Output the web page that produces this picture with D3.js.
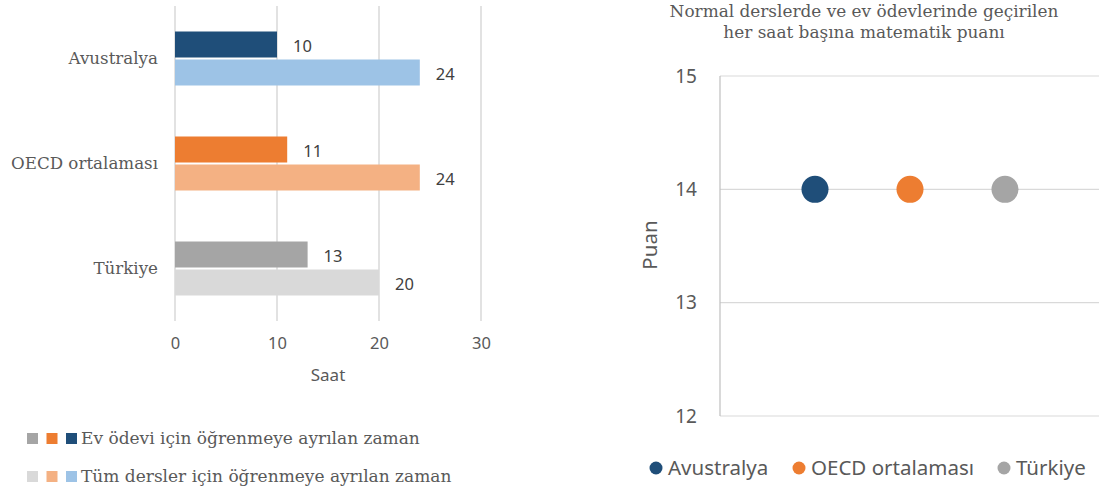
<!DOCTYPE html>
<html>
<head>
<meta charset="utf-8">
<script src="https://cdn.jsdelivr.net/npm/d3@7"></script>
<style>
  body { margin: 0; background: #fff; }
  svg { display: block; }
</style>
</head>
<body>
<svg id="chart" width="1099" height="493"></svg>
<script>
// data
var countries = ["Avustralya", "OECD ortalaması", "Türkiye"];
var homework = [10, 11, 13];
var allLessons = [24, 24, 20];
var xTicks = [0, 10, 20, 30];
var scorePerHour = [14, 14, 14];
var yTicks = [12, 13, 14, 15];
var darkColours = ["#1f4e79", "#ed7d31", "#a5a5a5"];
var lightColours = ["#9dc3e6", "#f4b183", "#d9d9d9"];
var legendLabels = ["Ev ödevi için öğrenmeye ayrılan zaman", "Tüm dersler için öğrenmeye ayrılan zaman"];
var titleLines = ["Normal derslerde ve ev ödevlerinde geçirilen", "her saat başına matematik puanı"];

var serif = "DejaVu Serif";
var sans = "Noto Sans";
var svg = d3.select("#chart");

//---- left chart: horizontal bars
var xScale = d3.scaleLinear().domain([0, 30]).range([175, 481]);
var yBand = d3.scaleBand().domain(countries).range([6, 321]);

var left = svg.append("g");

// gridlines
left.selectAll(".grid")
  .data(xTicks)
  .enter().append("line")
  .attr("x1", function(d) { return xScale(d); })
  .attr("x2", function(d) { return xScale(d); })
  .attr("y1", 6)
  .attr("y2", 321)
  .attr("stroke", "#d9d9d9")
  .attr("stroke-width", 1.5);

// tick labels
var xAxis = left.append("g")
  .attr("transform", "translate(0, 334)")
  .call(d3.axisBottom(xScale).tickValues(xTicks).tickSize(0).tickPadding(0));
xAxis.select(".domain").remove();
xAxis.selectAll("text")
  .attr("font-family", sans)
  .attr("font-size", 16.5)
  .attr("fill", "#595959")
  .attr("dy", "0.9em");

left.append("text")
  .attr("x", (xScale(0) + xScale(30)) / 2)
  .attr("y", 381)
  .attr("text-anchor", "middle")
  .attr("font-family", sans)
  .attr("font-size", 17)
  .attr("fill", "#595959")
  .text("Saat");

var barH = 26;
var groups = left.selectAll(".country")
  .data(countries)
  .enter().append("g");

groups.each(function(c, i) {
  var g = d3.select(this);
  var mid = yBand(c) + yBand.bandwidth() / 2;
  var rows = [
    { v: homework[i], col: darkColours[i], y: mid - barH - 1 },
    { v: allLessons[i], col: lightColours[i], y: mid + 1 }
  ];
  rows.forEach(function(r) {
    g.append("rect")
      .attr("x", xScale(0))
      .attr("y", r.y)
      .attr("width", xScale(r.v) - xScale(0))
      .attr("height", barH)
      .attr("fill", r.col);
    g.append("text")
      .attr("x", xScale(r.v) + 16)
      .attr("y", r.y + barH / 2 + 1.5)
      .attr("dy", "0.35em")
      .attr("font-family", sans)
      .attr("font-size", 16.5)
      .attr("fill", "#404040")
      .text(r.v);
  });
  g.append("text")
    .attr("x", 158)
    .attr("y", mid)
    .attr("dy", "0.35em")
    .attr("text-anchor", "end")
    .attr("font-family", serif)
    .attr("font-size", 16.7)
    .attr("fill", "#595959")
    .text(c);
});

// legend (left)
var legendRows = [darkColours, lightColours];
legendRows.forEach(function(cols, r) {
  var ly = 438 + r * 38;
  var order = [2, 1, 0];
  order.forEach(function(ci, k) {
    left.append("rect")
      .attr("x", 27 + k * 19.5)
      .attr("y", ly - 5)
      .attr("width", 11)
      .attr("height", 11)
      .attr("fill", cols[ci]);
  });
  left.append("text")
    .attr("x", 81)
    .attr("y", ly)
    .attr("dy", "0.35em")
    .attr("font-family", serif)
    .attr("font-size", 17)
    .attr("fill", "#595959")
    .text(legendLabels[r]);
});

//---- right chart: dot plot
var xDot = d3.scaleLinear().domain([0, 4]).range([720, 1100]);
var yScale = d3.scaleLinear().domain([12, 15]).range([416, 76]);

var right = svg.append("g");

right.selectAll(".hgrid")
  .data(yTicks)
  .enter().append("line")
  .attr("x1", 720)
  .attr("x2", 1099)
  .attr("y1", function(d) { return yScale(d); })
  .attr("y2", function(d) { return yScale(d); })
  .attr("stroke", "#d9d9d9")
  .attr("stroke-width", 1.2);

right.append("line")
  .attr("x1", 720).attr("x2", 720)
  .attr("y1", yScale(15)).attr("y2", yScale(12))
  .attr("stroke", "#bfbfbf")
  .attr("stroke-width", 1.2);

var yAxis = right.append("g")
  .attr("transform", "translate(697, 0)")
  .call(d3.axisLeft(yScale).tickValues(yTicks).tickFormat(d3.format("d")).tickSize(0).tickPadding(0));
yAxis.select(".domain").remove();
yAxis.selectAll("text")
  .attr("font-family", sans)
  .attr("font-size", 19)
  .attr("fill", "#595959");

right.append("text")
  .attr("transform", "translate(657, 245) rotate(-90)")
  .attr("text-anchor", "middle")
  .attr("font-family", sans)
  .attr("font-size", 20.5)
  .attr("fill", "#595959")
  .text("Puan");

right.selectAll(".dot")
  .data(scorePerHour)
  .enter().append("circle")
  .attr("cx", function(d, i) { return xDot(i + 1); })
  .attr("cy", function(d) { return yScale(d); })
  .attr("r", 13.5)
  .attr("fill", function(d, i) { return darkColours[i]; });

right.selectAll(".title")
  .data(titleLines)
  .enter().append("text")
  .attr("x", 864)
  .attr("y", function(d, i) { return 11 + i * 21; })
  .attr("dy", "0.35em")
  .attr("text-anchor", "middle")
  .attr("font-family", serif)
  .attr("font-size", 16.9)
  .attr("fill", "#595959")
  .text(function(d) { return d; });

// legend (right)
var legX = [656, 799, 1004];
countries.forEach(function(c, i) {
  right.append("circle")
    .attr("cx", legX[i])
    .attr("cy", 468)
    .attr("r", 6.5)
    .attr("fill", darkColours[i]);
  right.append("text")
    .attr("x", legX[i] + 12)
    .attr("y", 468)
    .attr("dy", "0.35em")
    .attr("font-family", sans)
    .attr("font-size", 20.5)
    .attr("fill", "#595959")
    .text(c);
});
</script>
</body>
</html>
